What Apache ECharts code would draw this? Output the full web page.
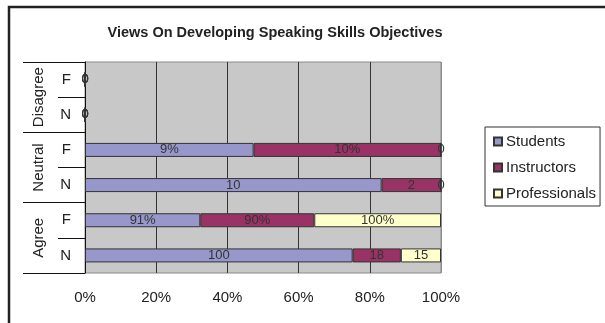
<!DOCTYPE html>
<html>
<head>
<meta charset="utf-8">
<script src="https://cdn.jsdelivr.net/npm/echarts@6/dist/echarts.min.js"></script>
<style>
  html, body { margin: 0; padding: 0; background: #fff; }
  #chart { width: 605px; height: 323px; }
</style>
</head>
<body>
<div id="chart"></div>
<script>
// Rows from bottom to top: Agree N/F, Neutral N/F, Disagree N/F
const subLabels = ['N', 'F', 'N', 'F', 'N', 'F'];
const groupLabels = ['Agree', 'Neutral', 'Disagree'];
const percentRow = [false, true, false, true, false, true];

const seriesNames = ['Students', 'Instructors', 'Professionals'];
const students = [100, 91, 10, 9, 0, 0];
const instructors = [18, 90, 2, 10, 0, 0];
const professionals = [15, 100, 0, 0, 0, 0];
const xTickLabels = ['0%', '20%', '40%', '60%', '80%', '100%'];

const colors = ['#9797cb', '#993366', '#ffffcc'];
const raw = [students, instructors, professionals];

// 100% stacking: each row is scaled to its own total
const totals = subLabels.map((_, i) => raw.reduce((s, arr) => s + arr[i], 0));
const share = (arr) => arr.map((v, i) => (totals[i] ? v / totals[i] * 100 : 0));

const font = 'Liberation Sans, Arial, sans-serif';

const chart = echarts.init(document.getElementById('chart'));

const series = raw.map((arr, k) => ({
  name: seriesNames[k],
  type: 'bar',
  stack: 'all',
  yAxisIndex: 0,
  barWidth: 14,
  data: share(arr),
  itemStyle: { color: colors[k], borderColor: '#333', borderWidth: 1 },
  label: {
    show: true,
    position: 'inside',
    fontFamily: font,
    fontSize: 13,
    color: '#333',
    formatter: (p) => {
      const v = arr[p.dataIndex];
      return percentRow[p.dataIndex] && v > 0 ? v + '%' : String(v);
    }
  },
  emphasis: { disabled: true }
}));

chart.setOption({
  animation: false,
  title: {
    text: 'Views On Developing Speaking Skills Objectives',
    left: 270,
    top: 20,
    textAlign: 'center',
    textStyle: { fontFamily: font, fontSize: 14.5, fontWeight: 'bold', color: '#222' }
  },
  graphic: [{
    type: 'rect',
    shape: { x: 9, y: 7, width: 1000, height: 1000 },
    style: { fill: 'none', stroke: '#222', lineWidth: 2.5 },
    silent: true
  }],
  legend: {
    orient: 'vertical',
    left: 485,
    top: 127,
    padding: [7, 4, 5, 8],
    itemGap: 11,
    itemWidth: 8,
    itemHeight: 8,
    icon: 'rect',
    borderColor: '#333',
    borderWidth: 1,
    data: seriesNames,
    textStyle: { fontFamily: font, fontSize: 15, lineHeight: 15, color: '#222', padding: [0, 0, 0, -1] }
  },
  grid: {
    left: 85,
    top: 62,
    right: 164,
    bottom: 50,
    show: true,
    backgroundColor: '#c8c8c8',
    borderColor: '#8a8a8a',
    borderWidth: 1
  },
  xAxis: {
    type: 'value',
    min: 0,
    max: 100,
    interval: 20,
    axisLine: { show: false },
    axisTick: { show: false },
    splitLine: {
      show: true,
      lineStyle: { color: ['#333', '#333', '#333', '#333', '#333', '#8a8a8a'], width: 1 }
    },
    axisLabel: {
      margin: 17,
      fontFamily: font,
      fontSize: 15,
      color: '#222',
      formatter: (v) => xTickLabels[Math.round(v / 20)]
    }
  },
  yAxis: [{
    type: 'category',
    data: subLabels,
    position: 'left',
    axisLine: { show: true, lineStyle: { color: '#111', width: 1 } },
    axisTick: { show: true, interval: 0, length: 27, lineStyle: { color: '#111' } },
    axisLabel: { interval: 0, margin: 14, fontFamily: font, fontSize: 15, color: '#222' },
    splitLine: { show: false }
  }, {
    type: 'category',
    data: groupLabels,
    position: 'left',
    axisLine: { show: false },
    axisTick: { show: true, interval: 0, length: 62, lineStyle: { color: '#111' } },
    axisLabel: { interval: 0, rotate: 90, margin: 39, fontFamily: font, fontSize: 15, color: '#222' },
    splitLine: { show: false }
  }],
  series: series
});
</script>
</body>
</html>
